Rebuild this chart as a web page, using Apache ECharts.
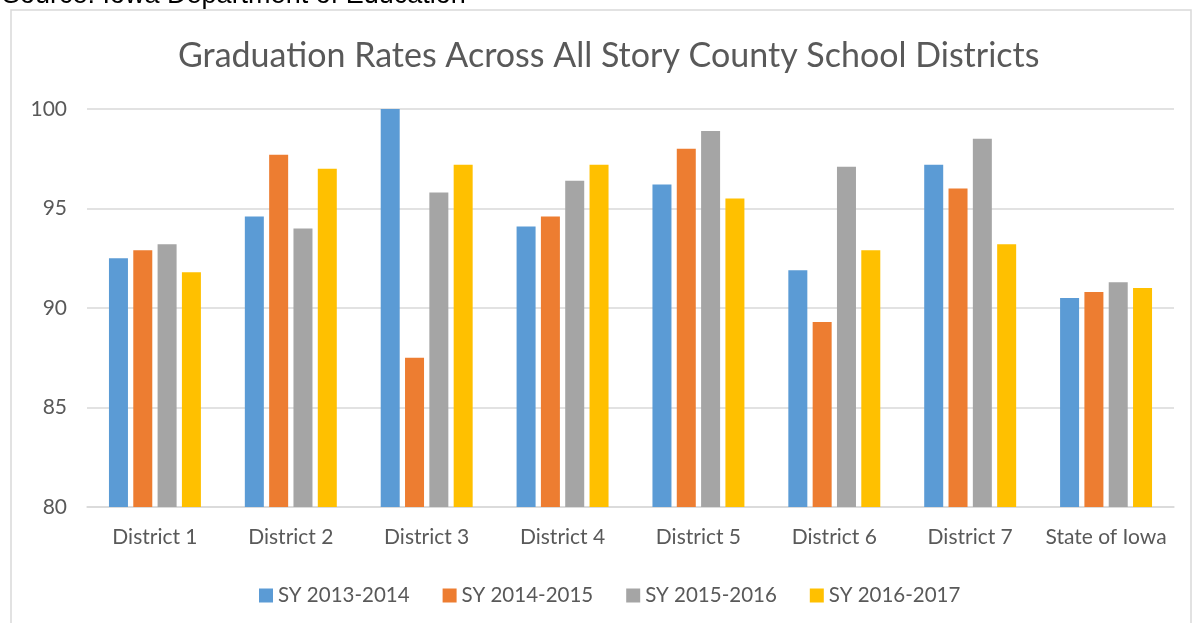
<!DOCTYPE html>
<html>
<head>
<meta charset="utf-8">
<script src="https://cdn.jsdelivr.net/npm/echarts@6/dist/echarts.min.js"></script>
<style>
  html, body { margin: 0; padding: 0; background: #fff; }
  #chart { width: 1193px; height: 623px; }
</style>
</head>
<body>
<div id="chart"></div>
<script>
  // categories and values
  const districts = ['District 1', 'District 2', 'District 3', 'District 4', 'District 5', 'District 6', 'District 7', 'State of Iowa'];
  const sy2013 = [92.5, 94.6, 100.0, 94.1, 96.2, 91.9, 97.2, 90.5];
  const sy2014 = [92.9, 97.7, 87.5, 94.6, 98.0, 89.3, 96.0, 90.8];
  const sy2015 = [93.2, 94.0, 95.8, 96.4, 98.9, 97.1, 98.5, 91.3];
  const sy2016 = [91.8, 97.0, 97.2, 97.2, 95.5, 92.9, 93.2, 91.0];
  const seriesNames = ['SY 2013-2014', 'SY 2014-2015', 'SY 2015-2016', 'SY 2016-2017'];
  const colors = ['#5B9BD5', '#ED7D31', '#A5A5A5', '#FFC000'];

  const font = 'Lato, "Open Sans", sans-serif';
  const chart = echarts.init(document.getElementById('chart'));

  const option = {
    animation: false,
    color: colors,
    title: {
      text: 'Graduation Rates Across All Story County School Districts',
      left: 173,
      top: 34,
      textStyle: { fontFamily: font, fontSize: 34, fontWeight: 'normal', color: '#595959' }
    },
    graphic: [
      {
        type: 'rect',
        shape: { x: 11, y: 10, width: 1180, height: 640 },
        style: { fill: 'none', stroke: '#D9D9D9', lineWidth: 1.5 },
        silent: true
      },
      {
        type: 'text',
        x: 2,
        y: -4,
        style: {
          text: 'Source: Iowa Department of Education',
          font: '27px "Liberation Sans", Arial, sans-serif',
          fill: '#000',
          textVerticalAlign: 'middle'
        }
      }
    ],
    legend: {
      data: seriesNames,
      top: 580,
      left: 254,
      itemWidth: 14,
      itemHeight: 14,
      itemGap: 33,
      icon: 'rect',
      textStyle: { fontFamily: font, fontSize: 20.5, color: '#595959' }
    },
    grid: { left: 87, right: 19, top: 109, bottom: 116 },
    xAxis: {
      type: 'category',
      data: districts,
      axisLine: { lineStyle: { color: '#D9D9D9', width: 1.5 } },
      axisTick: { show: false },
      axisLabel: { interval: 0, fontFamily: font, fontSize: 21, color: '#595959', margin: 20 }
    },
    yAxis: {
      type: 'value',
      min: 80,
      max: 100,
      interval: 5,
      axisLine: { show: false },
      axisTick: { show: false },
      splitLine: { lineStyle: { color: '#D9D9D9', width: 1.5 } },
      axisLabel: { fontFamily: font, fontSize: 21, color: '#595959', margin: 20 }
    },
    series: [sy2013, sy2014, sy2015, sy2016].map((vals, i) => ({
      name: seriesNames[i],
      type: 'bar',
      data: vals,
      barWidth: 19,
      barGap: '28%'
    }))
  };
  chart.setOption(option);
</script>
</body>
</html>
